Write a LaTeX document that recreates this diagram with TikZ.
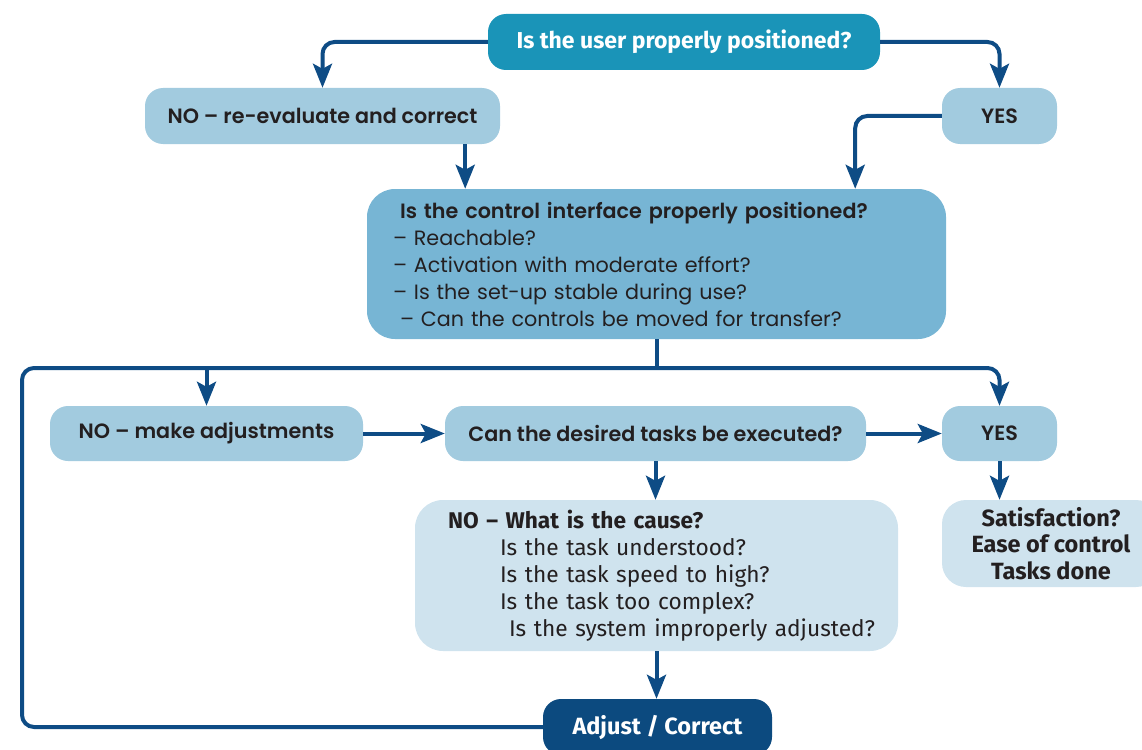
\documentclass[tikz,border=0pt]{standalone}
\usepackage{fontspec}
\setmainfont{Poppins}[BoldFont={Poppins SemiBold}]
\newfontfamily\condfont{Fira Sans}
\usetikzlibrary{arrows.meta}
\definecolor{topc}{HTML}{1A94B8}
\definecolor{lightc}{HTML}{A2CBDF}
\definecolor{midc}{HTML}{77B5D4}
\definecolor{palec}{HTML}{CFE3EE}
\definecolor{darkc}{HTML}{0C4A7F}
\definecolor{arrowc}{HTML}{0E4C85}
\definecolor{txt}{HTML}{231F20}
\begin{document}
\begin{tikzpicture}[x=1pt,y=-1pt,
  box/.style={rectangle, rounded corners=18pt, inner sep=0pt, align=center, text=txt,
    font=\bfseries\fontsize{20.7}{27}\selectfont},
  conn/.style={draw=arrowc, line width=4pt, rounded corners=12pt,
    -{Stealth[length=24pt,width=19pt,inset=5pt]}},
  plain/.style={draw=arrowc, line width=4pt, rounded corners=12pt}
]
\useasboundingbox (0,0) rectangle (1142,749);

\node[box, fill=topc, text=white, minimum width=392pt, minimum height=56pt,
  font=\condfont\bfseries\fontsize{23}{27}\selectfont] (top) at (684,42) {Is the user properly positioned?};
\node[box, fill=lightc, minimum width=355pt, minimum height=56pt] (noreeval) at (322.5,116) {NO – re-evaluate and correct};
\node[box, fill=lightc, minimum width=115pt, minimum height=56pt] (yes1) at (999.5,116) {YES};

\node[box, fill=midc, rounded corners=28pt, minimum width=579pt, minimum height=150pt,
  align=left, text width=527pt, inner xsep=26pt, inner ysep=0pt,
  font=\fontsize{20.7}{27}\selectfont] (ctrl) at (656.5,264)
  {\hspace*{7pt}\textbf{Is the control interface properly positioned?}\\
   – Reachable?\\
   – Activation with moderate effort?\\
   – Is the set-up stable during use?\\
   \hspace*{7pt}– Can the controls be moved for transfer?};

\node[box, fill=lightc, minimum width=313pt, minimum height=55pt] (noadj) at (206.5,433.5) {NO – make adjustments};
\node[box, fill=lightc, minimum width=421pt, minimum height=55pt] (can) at (655.5,433.5) {Can the desired tasks be executed?};
\node[box, fill=lightc, minimum width=115pt, minimum height=55pt] (yes2) at (999.5,433.5) {YES};

\node[box, fill=palec, rounded corners=28pt, minimum width=483pt, minimum height=151pt,
  align=left, text width=440pt, inner xsep=21.5pt, inner ysep=0pt,
  font=\condfont\fontsize{22.7}{27}\selectfont] (cause) at (656.5,575.5)
  {\hspace*{11.5pt}\textbf{NO – What is the cause?}\\
   \hspace*{63.5pt}Is the task understood?\\
   \hspace*{63.5pt}Is the task speed to high?\\
   \hspace*{63.5pt}Is the task too complex?\\
   \hspace*{72.5pt}Is the system improperly adjusted?};

\node[box, fill=palec, rounded corners=24pt, minimum width=218pt, minimum height=87pt,
  font=\condfont\bfseries\fontsize{23.5}{26.5}\selectfont] (satis) at (1051,543.5)
  {Satisfaction?\\Ease of control\\Tasks done};

\node[box, fill=darkc, text=white, minimum width=229pt, minimum height=56pt,
  font=\condfont\bfseries\fontsize{23.5}{27}\selectfont] (adjust) at (657.5,727) {Adjust / Correct};

\coordinate (lc) at (22,368);

\draw[conn] (top.west) -| (noreeval.north);
\draw[conn] (top.east) -| (yes1.north);
\coordinate (a) at ([xshift=-35pt]noreeval.south east);
\draw[conn] (a) -- (a |- ctrl.north);
\draw[conn] (yes1.west) -| ([xshift=-91pt]ctrl.north east);

\draw[plain] (ctrl.south) -- (ctrl.south |- lc);
\draw[conn] (adjust.west) -| (lc) -| (yes2.north);
\draw[conn] (noadj.north |- lc) -- (noadj.north);

\draw[conn] (noadj.east) -- (can.west);
\draw[conn] (can.east) -- (yes2.west);
\draw[conn] (can.south) -- (can.south |- cause.north);
\draw[conn] (yes2.south) -- (yes2.south |- satis.north);
\draw[conn] (cause.south) -- (cause.south |- adjust.north);
\end{tikzpicture}
\end{document}
